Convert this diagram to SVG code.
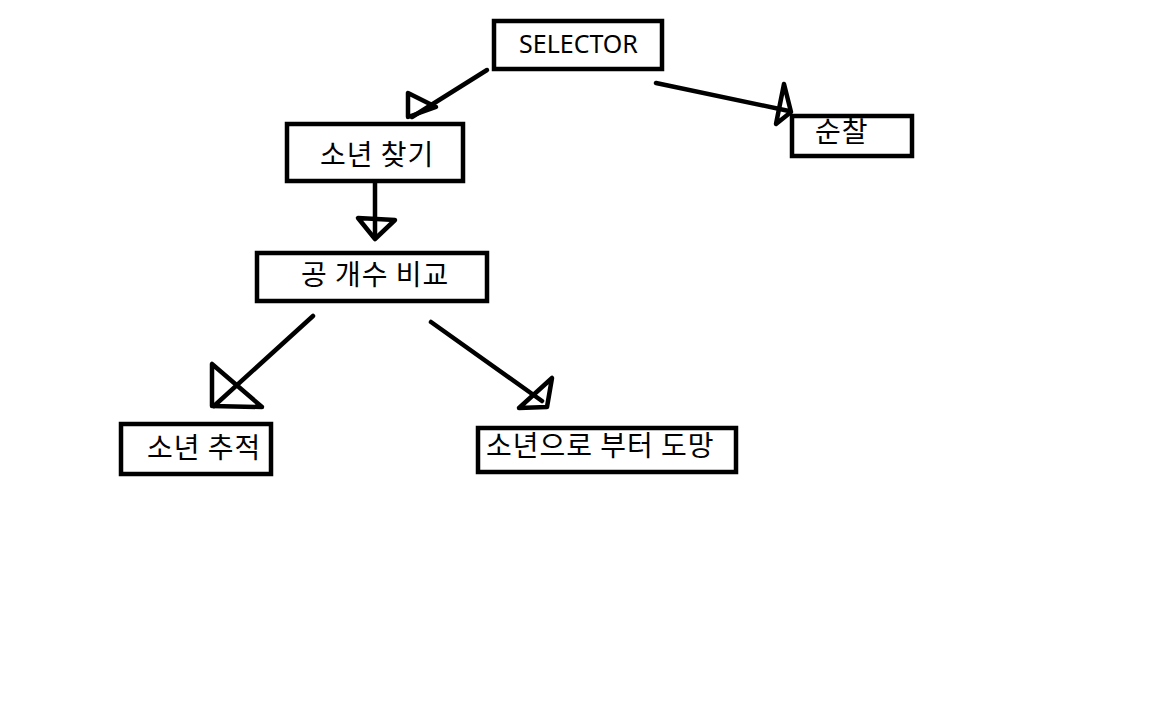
<svg xmlns="http://www.w3.org/2000/svg" width="1152" height="720" viewBox="0 0 1152 720">
<style>
.box{fill:#fff;stroke:#000;stroke-width:4.5}
.t{font-family:"Noto Sans CJK KR","Noto Sans",sans-serif;font-size:28px;letter-spacing:1px;fill:#000}
.e{font-family:"Noto Sans","DejaVu Sans",sans-serif;font-size:25px;fill:#000}
.c{fill:none;stroke:#000;stroke-width:4.5;stroke-linecap:round;stroke-linejoin:round}
</style>
<rect width="1152" height="720" fill="#fff"/>
<g id="connectors">
<path class="c" d="M487,70 L412,117"/>
<path class="c" d="M408,93 L408,117 L436,107 Z"/>
<path class="c" d="M656,83 L789,111"/>
<path class="c" d="M784,84 L776,124 L791,112 Z"/>
<path class="c" d="M375,183 L375,238"/>
<path class="c" d="M358,218 L395,220 L375,239 Z"/>
<path class="c" d="M313,316 L214,406"/>
<path class="c" d="M212,364 L212,406 L262,407 Z"/>
<path class="c" d="M431,322 L542,401"/>
<path class="c" d="M552,378 L547,407 L519,408 Z"/>
</g>
<g id="n-selector"><rect class="box" x="494" y="21" width="168" height="48"/><text class="e" x="519" y="53">SELECTOR</text></g>
<g id="n-find"><rect class="box" x="287" y="124" width="176" height="57"/><text class="t" x="320" y="165">소년 찾기</text></g>
<g id="n-patrol"><rect class="box" x="792" y="116" width="120" height="40"/><text class="t" x="815" y="142">순찰</text></g>
<g id="n-compare"><rect class="box" x="257" y="253" width="230" height="48"/><text class="t" x="301" y="285">공 개수 비교</text></g>
<g id="n-chase"><rect class="box" x="121" y="424" width="150" height="50"/><text class="t" x="147" y="458">소년 추적</text></g>
<g id="n-flee"><rect class="box" x="478" y="428" width="258" height="44"/><text class="t" x="486" y="456">소년으로 부터 도망</text></g>
</svg>
